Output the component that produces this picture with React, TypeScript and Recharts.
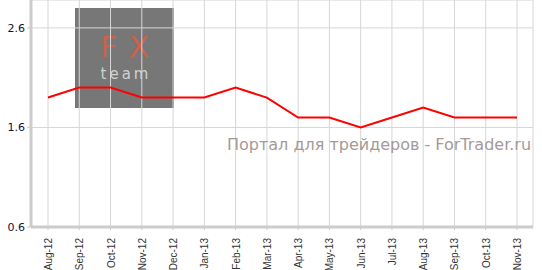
import { LineChart, Line, XAxis, YAxis, CartesianGrid } from 'recharts';

const months = [
  'Aug-12', 'Sep-12', 'Oct-12', 'Nov-12', 'Dec-12', 'Jan-13', 'Feb-13', 'Mar-13',
  'Apr-13', 'May-13', 'Jun-13', 'Jul-13', 'Aug-13', 'Sep-13', 'Oct-13', 'Nov-13',
];
const rates = [1.9, 2.0, 2.0, 1.9, 1.9, 1.9, 2.0, 1.9, 1.7, 1.7, 1.6, 1.7, 1.8, 1.7, 1.7, 1.7];
const yTicks = [0.6, 1.6, 2.6];

const data = months.map((month, i) => ({ month, rate: rates[i] }));

const XTick = ({ x, y, payload }: any) => (
  <text
    x={x}
    y={y}
    transform={`rotate(-90 ${x} ${y})`}
    dx={-6}
    dy={4}
    textAnchor="end"
    fontSize={10}
    fontFamily="'Liberation Sans', Arial, sans-serif"
    fill="#333"
  >
    {payload.value}
  </text>
);

export default function App() {
  return (
    <div style={{ position: 'absolute', left: 0, top: 0, width: 542, height: 270, background: '#fff' }}>
      {/* logo box sits under the grid */}
      <div
        style={{
          position: 'absolute', left: 75, top: 8, width: 99, height: 100, background: '#777',
        }}
      >
        <div
          style={{
            position: 'absolute', left: 0, top: 24, width: 99, height: 30, textAlign: 'center',
            fontFamily: "'DejaVu Sans', sans-serif", fontSize: 29, lineHeight: '30px',
            color: '#cf604a', letterSpacing: 12, textIndent: 12,
          }}
        >
          FX
        </div>
        <div
          style={{
            position: 'absolute', left: 0, top: 58, width: 99, height: 16, textAlign: 'center',
            fontFamily: "'DejaVu Sans', sans-serif", fontSize: 15, lineHeight: '16px',
            color: '#d0d0d0', letterSpacing: 3, textIndent: 3,
          }}
        >
          team
        </div>
      </div>
      <LineChart width={542} height={270} data={data} margin={{ top: 0, right: 9, bottom: 0, left: 0 }}>
        <CartesianGrid stroke="#d6d6d6" strokeWidth={1} />
        <XAxis
          dataKey="month"
          interval={0}
          height={43}
          padding={{ left: 17, right: 16 }}
          tick={<XTick />}
          tickLine={{ stroke: '#ccc' }}
          tickSize={3}
          axisLine={{ stroke: '#ccc', strokeWidth: 3 }}
        />
        <YAxis
          domain={[0.6, 2.88]}
          ticks={yTicks}
          tickFormatter={(v: number) => v.toFixed(1)}
          width={31}
          tickSize={4}
          tickLine={{ stroke: '#ccc' }}
          axisLine={{ stroke: '#ccc', strokeWidth: 3 }}
          tick={{ fontSize: 11, fill: '#10103a', fontFamily: "'DejaVu Sans', Verdana, sans-serif" }}
        />
        <Line
          type="linear"
          dataKey="rate"
          stroke="#ff0000"
          strokeWidth={2}
          dot={false}
          isAnimationActive={false}
        />
      </LineChart>
      <div
        style={{
          position: 'absolute', left: 227, top: 135, whiteSpace: 'nowrap',
          fontFamily: "'DejaVu Sans', Verdana, sans-serif", fontSize: 16, color: '#a59a98',
          pointerEvents: 'none',
        }}
      >
        Портал для трейдеров - ForTrader.ru
      </div>
    </div>
  );
}
